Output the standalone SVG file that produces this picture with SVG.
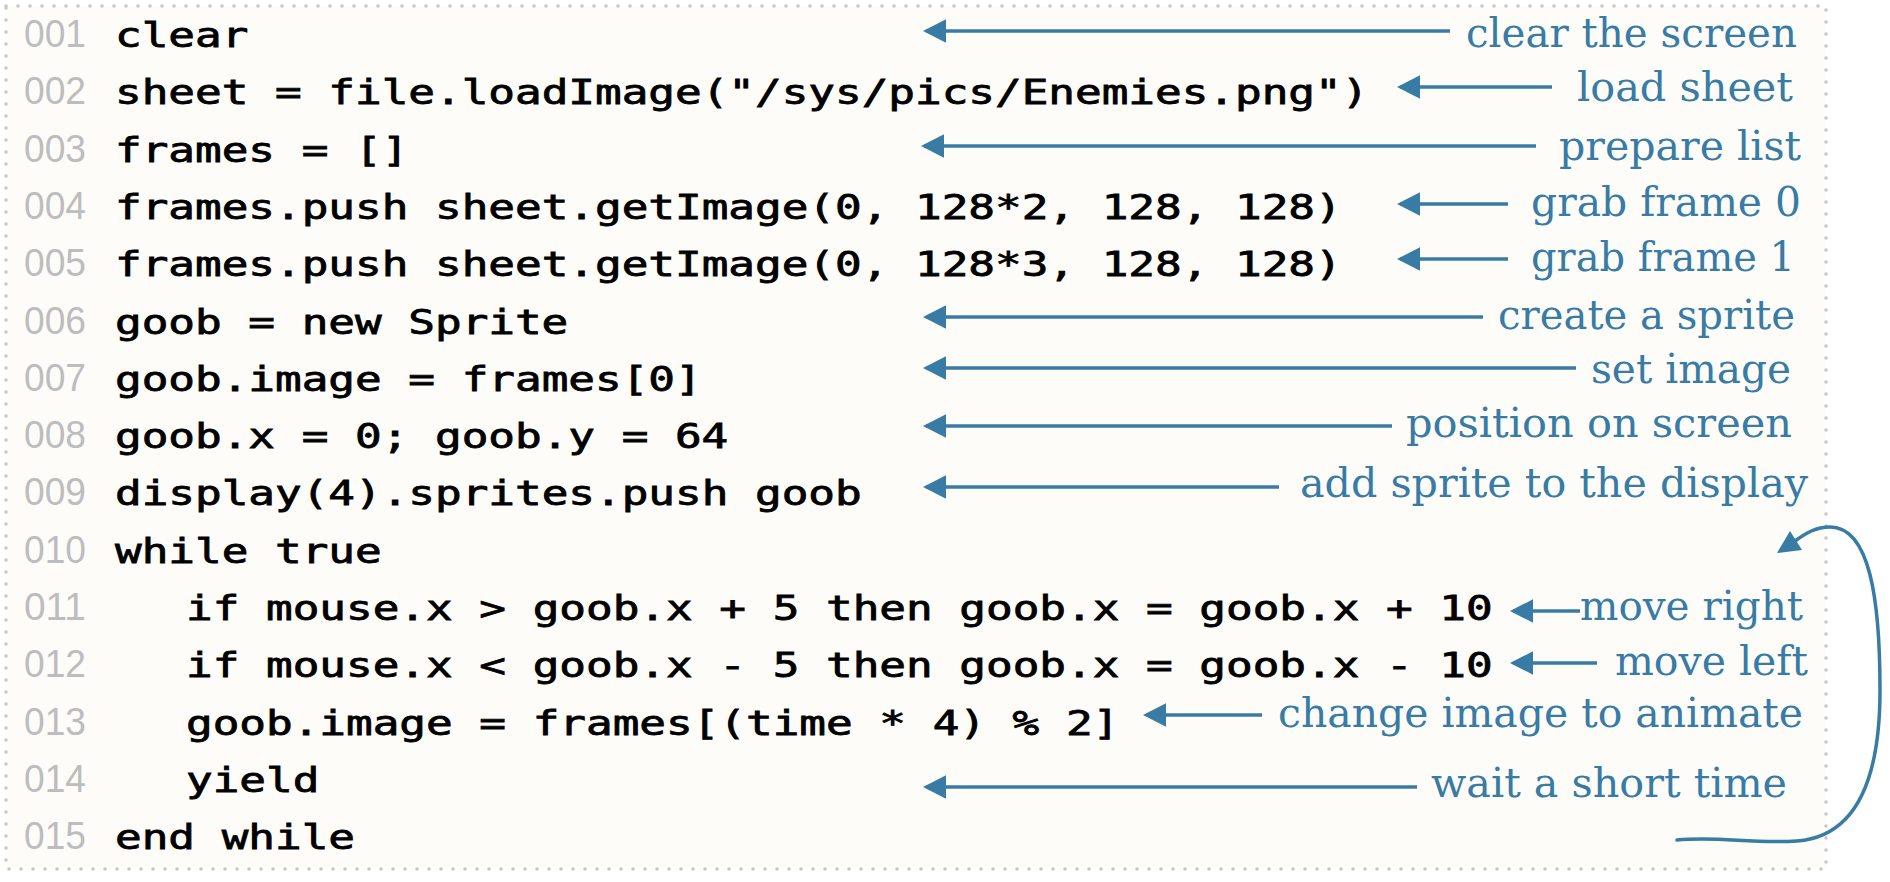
<svg xmlns="http://www.w3.org/2000/svg" width="1890" height="882" viewBox="0 0 1890 882">
  <style>
    .ln { font-family: "Liberation Sans", Arial, sans-serif; font-size: 39px; fill: #bdbdbd; }
    .code { font-family: "DejaVu Sans Mono", "Liberation Mono", monospace; font-size: 34px; font-weight: normal; fill: #000; stroke: #000; stroke-width: 0.8px; }
    .lbl { font-family: "DejaVu Serif", "Liberation Serif", Georgia, serif; font-size: 41px; fill: #387ba5; }
    .conn line { stroke: #387ba5; stroke-width: 3.5; fill: none; }
    .conn path { stroke: #387ba5; stroke-width: 3.5; fill: none; stroke-linecap: round; }
  </style>
  <defs>
    <marker id="ah" markerUnits="userSpaceOnUse" markerWidth="24" markerHeight="24" viewBox="0 0 23 24" refX="20" refY="12" orient="auto">
      <path d="M0,0.3 L23,12 L0,23.7 z" fill="#387ba5"/>
    </marker>
  </defs>

  <rect x="0" y="0" width="1890" height="882" fill="#ffffff"/>
  <rect x="6" y="6" width="1820" height="863" fill="#fdfcf9" stroke="#c6c6c6" stroke-width="3.5" stroke-dasharray="0 12" stroke-linecap="round"/>

  <g id="line-numbers">
    <text class="ln" x="24" y="47" textLength="62" lengthAdjust="spacingAndGlyphs">001</text>
    <text class="ln" x="24" y="104.3" textLength="62" lengthAdjust="spacingAndGlyphs">002</text>
    <text class="ln" x="24" y="161.6" textLength="62" lengthAdjust="spacingAndGlyphs">003</text>
    <text class="ln" x="24" y="218.9" textLength="62" lengthAdjust="spacingAndGlyphs">004</text>
    <text class="ln" x="24" y="276.2" textLength="62" lengthAdjust="spacingAndGlyphs">005</text>
    <text class="ln" x="24" y="333.5" textLength="62" lengthAdjust="spacingAndGlyphs">006</text>
    <text class="ln" x="24" y="390.8" textLength="62" lengthAdjust="spacingAndGlyphs">007</text>
    <text class="ln" x="24" y="448.1" textLength="62" lengthAdjust="spacingAndGlyphs">008</text>
    <text class="ln" x="24" y="505.4" textLength="62" lengthAdjust="spacingAndGlyphs">009</text>
    <text class="ln" x="24" y="562.7" textLength="62" lengthAdjust="spacingAndGlyphs">010</text>
    <text class="ln" x="24" y="620" textLength="62" lengthAdjust="spacingAndGlyphs">011</text>
    <text class="ln" x="24" y="677.3" textLength="62" lengthAdjust="spacingAndGlyphs">012</text>
    <text class="ln" x="24" y="734.6" textLength="62" lengthAdjust="spacingAndGlyphs">013</text>
    <text class="ln" x="24" y="791.9" textLength="62" lengthAdjust="spacingAndGlyphs">014</text>
    <text class="ln" x="24" y="849.2" textLength="62" lengthAdjust="spacingAndGlyphs">015</text>
  </g>

  <g id="code">
    <text class="code" x="115" y="47" textLength="133.3" lengthAdjust="spacingAndGlyphs">clear</text>
    <text class="code" x="115" y="104.3" textLength="1253.3" lengthAdjust="spacingAndGlyphs">sheet = file.loadImage("/sys/pics/Enemies.png")</text>
    <text class="code" x="115" y="161.6" textLength="293.3" lengthAdjust="spacingAndGlyphs">frames = []</text>
    <text class="code" x="115" y="218.9" textLength="1226.7" lengthAdjust="spacingAndGlyphs">frames.push sheet.getImage(0, 128*2, 128, 128)</text>
    <text class="code" x="115" y="276.2" textLength="1226.7" lengthAdjust="spacingAndGlyphs">frames.push sheet.getImage(0, 128*3, 128, 128)</text>
    <text class="code" x="115" y="333.5" textLength="453.3" lengthAdjust="spacingAndGlyphs">goob = new Sprite</text>
    <text class="code" x="115" y="390.8" textLength="586.7" lengthAdjust="spacingAndGlyphs">goob.image = frames[0]</text>
    <text class="code" x="115" y="448.1" textLength="613.3" lengthAdjust="spacingAndGlyphs">goob.x = 0; goob.y = 64</text>
    <text class="code" x="115" y="505.4" textLength="746.7" lengthAdjust="spacingAndGlyphs">display(4).sprites.push goob</text>
    <text class="code" x="115" y="562.7" textLength="266.7" lengthAdjust="spacingAndGlyphs">while true</text>
    <text class="code" x="186" y="620" textLength="1306.7" lengthAdjust="spacingAndGlyphs">if mouse.x &gt; goob.x + 5 then goob.x = goob.x + 10</text>
    <text class="code" x="186" y="677.3" textLength="1306.7" lengthAdjust="spacingAndGlyphs">if mouse.x &lt; goob.x - 5 then goob.x = goob.x - 10</text>
    <text class="code" x="186" y="734.6" textLength="933.3" lengthAdjust="spacingAndGlyphs">goob.image = frames[(time * 4) % 2]</text>
    <text class="code" x="186" y="791.9" textLength="133.3" lengthAdjust="spacingAndGlyphs">yield</text>
    <text class="code" x="115" y="849.2" textLength="240" lengthAdjust="spacingAndGlyphs">end while</text>
  </g>

  <g id="labels">
    <g id="label-clear"><text class="lbl" x="1466" y="47" textLength="331" lengthAdjust="spacingAndGlyphs">clear the screen</text></g>
    <g id="label-load"><text class="lbl" x="1577" y="101" textLength="216" lengthAdjust="spacingAndGlyphs">load sheet</text></g>
    <g id="label-prepare"><text class="lbl" x="1559" y="160" textLength="242" lengthAdjust="spacingAndGlyphs">prepare list</text></g>
    <g id="label-grab0"><text class="lbl" x="1531" y="216" textLength="270" lengthAdjust="spacingAndGlyphs">grab frame 0</text></g>
    <g id="label-grab1"><text class="lbl" x="1531" y="271" textLength="264" lengthAdjust="spacingAndGlyphs">grab frame 1</text></g>
    <g id="label-create"><text class="lbl" x="1498" y="329" textLength="297" lengthAdjust="spacingAndGlyphs">create a sprite</text></g>
    <g id="label-setimage"><text class="lbl" x="1591" y="383" textLength="200" lengthAdjust="spacingAndGlyphs">set image</text></g>
    <g id="label-position"><text class="lbl" x="1406" y="437" textLength="386" lengthAdjust="spacingAndGlyphs">position on screen</text></g>
    <g id="label-add"><text class="lbl" x="1300" y="497" textLength="508" lengthAdjust="spacingAndGlyphs">add sprite to the display</text></g>
    <g id="label-right"><text class="lbl" x="1580" y="620" textLength="223" lengthAdjust="spacingAndGlyphs">move right</text></g>
    <g id="label-left"><text class="lbl" x="1615" y="675" textLength="193" lengthAdjust="spacingAndGlyphs">move left</text></g>
    <g id="label-animate"><text class="lbl" x="1278" y="727" textLength="525" lengthAdjust="spacingAndGlyphs">change image to animate</text></g>
    <g id="label-wait"><text class="lbl" x="1431" y="797" textLength="356" lengthAdjust="spacingAndGlyphs">wait a short time</text></g>
  </g>

  <g id="connectors" class="conn">
    <line x1="1450" y1="31" x2="926" y2="31" marker-end="url(#ah)"/>
    <line x1="1552" y1="87" x2="1400" y2="87" marker-end="url(#ah)"/>
    <line x1="1536" y1="146" x2="924" y2="146" marker-end="url(#ah)"/>
    <line x1="1508" y1="204" x2="1400" y2="204" marker-end="url(#ah)"/>
    <line x1="1508" y1="259" x2="1400" y2="259" marker-end="url(#ah)"/>
    <line x1="1483" y1="317" x2="926" y2="317" marker-end="url(#ah)"/>
    <line x1="1576" y1="368" x2="926" y2="368" marker-end="url(#ah)"/>
    <line x1="1392" y1="426" x2="926" y2="426" marker-end="url(#ah)"/>
    <line x1="1279" y1="487" x2="926" y2="487" marker-end="url(#ah)"/>
    <line x1="1580" y1="611" x2="1513" y2="611" marker-end="url(#ah)"/>
    <line x1="1597" y1="663" x2="1513" y2="663" marker-end="url(#ah)"/>
    <line x1="1262" y1="715" x2="1146" y2="715" marker-end="url(#ah)"/>
    <line x1="1417" y1="787" x2="926" y2="787" marker-end="url(#ah)"/>
    <path d="M1677,840 C1720,836 1750,844 1797,841 C1850,837 1880,790 1880,690 C1880,600 1870,527 1830,527 C1816,527 1806,533 1795,541"/>
    <polygon points="1777,553 1790,531 1802,550" fill="#387ba5"/>
  </g>
</svg>
